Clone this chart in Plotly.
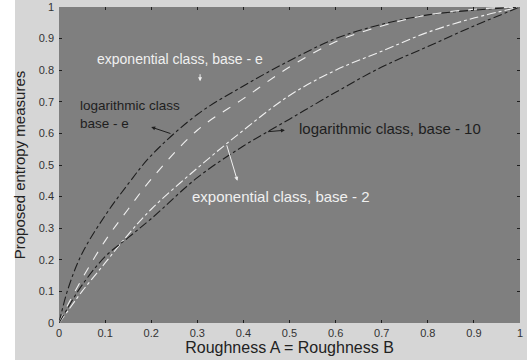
import plotly.graph_objects as go

roughness = [0, 0.02, 0.05, 0.1, 0.15, 0.2, 0.3, 0.4, 0.5, 0.6, 0.7, 0.8, 0.9, 1.0]
log_base_e = [0, 0.11, 0.22, 0.34, 0.44, 0.53, 0.66, 0.75, 0.83, 0.90, 0.945, 0.975, 0.99, 1.0]
exp_base_e = [0, 0.06, 0.14, 0.26, 0.36, 0.455, 0.61, 0.71, 0.81, 0.89, 0.94, 0.975, 0.993, 1.0]
exp_base_2 = [0, 0.04, 0.10, 0.19, 0.28, 0.36, 0.49, 0.61, 0.72, 0.80, 0.86, 0.92, 0.965, 1.0]
log_base_10 = [0, 0.05, 0.12, 0.21, 0.27, 0.33, 0.46, 0.56, 0.645, 0.73, 0.81, 0.875, 0.94, 1.0]

tick_vals = [0, 0.1, 0.2, 0.3, 0.4, 0.5, 0.6, 0.7, 0.8, 0.9, 1]
tick_text = ["0", "0.1", "0.2", "0.3", "0.4", "0.5", "0.6", "0.7", "0.8", "0.9", "1"]

dark = "#1e1e1e"
light = "#f0f0f0"

fig = go.Figure()
fig.add_trace(go.Scatter(x=roughness, y=log_base_e, mode="lines",
                         line=dict(color=dark, width=1.1, dash="dashdot", shape="spline")))
fig.add_trace(go.Scatter(x=roughness, y=exp_base_e, mode="lines",
                         line=dict(color=light, width=1.1, dash="dash", shape="spline")))
fig.add_trace(go.Scatter(x=roughness, y=exp_base_2, mode="lines",
                         line=dict(color=light, width=1.1, dash="dashdot", shape="spline")))
fig.add_trace(go.Scatter(x=roughness, y=log_base_10, mode="lines",
                         line=dict(color=dark, width=1.1, dash="dashdot", shape="spline")))

font = "Liberation Sans, Arial, sans-serif"

# white strips at the picture edges (the rest of the paper is light gray)
for x0, x1, y0, y1 in [(-0.14, -0.0954, -0.15, 1.05), (1.0152, 1.04, -0.15, 1.05), (-0.14, 1.04, -0.15, -0.117)]:
    fig.add_shape(type="rect", xref="paper", yref="paper", x0=x0, x1=x1, y0=y0, y1=y1,
                  fillcolor="white", line=dict(width=0), layer="above")

annots = [
    dict(x=0.262, y=0.835, text="exponential class, base - e", font=dict(color=light, size=14)),
    dict(x=0.041, y=0.66, text="logarithmic class<br>base - e", font=dict(color=dark, size=13.5), xanchor="left", align="left"),
    dict(x=0.516, y=0.614, text="logarithmic class, base - 10", font=dict(color=dark, size=15), xanchor="left"),
    dict(x=0.284, y=0.399, text="exponential class, base - 2", font=dict(color=light, size=15), xanchor="left"),
]
for a in annots:
    a.update(xref="x", yref="y", showarrow=False, font=dict(family=font, **a["font"]))
    fig.add_annotation(**a)

arrows = [
    # (head_x, head_y, tail_x, tail_y, color)
    (0.306, 0.765, 0.306, 0.792, light),
    (0.200, 0.620, 0.245, 0.598, dark),
    (0.490, 0.610, 0.450, 0.605, dark),
    (0.387, 0.450, 0.363, 0.567, light),
]
for hx, hy, tx, ty, c in arrows:
    fig.add_annotation(x=hx, y=hy, ax=tx, ay=ty, xref="x", yref="y", axref="x", ayref="y",
                       text="", showarrow=True, arrowhead=2, arrowsize=0.8, arrowwidth=1,
                       arrowcolor=c)

fig.update_layout(
    width=530, height=362,
    margin=dict(l=59, r=10, t=7, b=39),
    paper_bgcolor="#d6d6d6",
    plot_bgcolor="#7f7f7f",
    showlegend=False,
    font=dict(family=font, size=11, color=dark),
)
fig.update_xaxes(range=[0, 1], tickvals=tick_vals, ticktext=tick_text, ticks="inside", ticklen=3,
                 tickcolor=dark, mirror="ticks", showgrid=False, zeroline=False, showline=False,
                 automargin=False, tickfont=dict(size=11, color="#333"), ticklabelstandoff=2,
                 title=dict(text="Roughness A = Roughness B", font=dict(size=16, color="#222"), standoff=1))
fig.update_yaxes(range=[0, 1], tickvals=tick_vals, ticktext=tick_text, ticks="inside", ticklen=3,
                 tickcolor=dark, mirror="ticks", showgrid=False, zeroline=False, showline=False,
                 automargin=False, tickfont=dict(size=11, color="#333"), ticklabelstandoff=4,
                 title=dict(text="Proposed entropy measures", font=dict(size=15, color="#222"), standoff=9))

fig.write_html("out.html", config={"displayModeBar": False},
               post_script="document.body.style.margin='0px';")
